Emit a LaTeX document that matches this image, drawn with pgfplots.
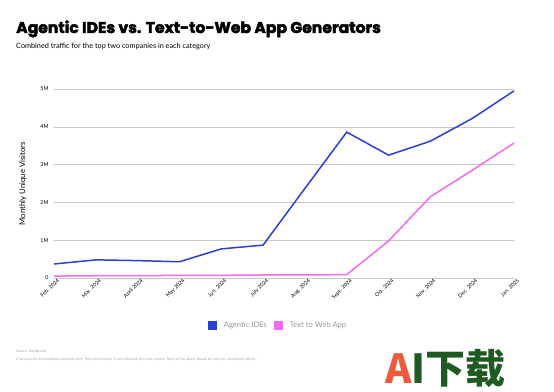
\documentclass[border=0pt]{standalone}
\usepackage{pgfplots}
\pgfplotsset{compat=1.18}
\usepackage{fontspec}
\setmainfont{Lato}
\newfontfamily\titlefont[BoldFeatures={FakeBold=2.5}]{Poppins}
\newfontfamily\cjk{Noto Sans CJK SC}
\definecolor{ide}{HTML}{2B3FD0}
\definecolor{web}{HTML}{EE6CEE}
\definecolor{gridc}{HTML}{C8C8C8}
\definecolor{wmgreen}{HTML}{1E5A22}
\definecolor{wmred}{HTML}{EE5A3C}
\begin{document}
\begin{tikzpicture}[x=1pt,y=1pt]
\path[use as bounding box] (0,0) rectangle (554,391);
\node[anchor=base west,inner sep=0pt,font=\titlefont\bfseries\fontsize{15.6}{17}\selectfont] at (16,358) {Agentic IDEs vs. Text-to-Web App Generators};
\node[anchor=base west,inner sep=0pt,font=\fontsize{7.3}{8}\selectfont] at (16,342) {Combined traffic for the top two companies in each category};
\node[anchor=base west,inner sep=0pt,font=\fontsize{3.6}{4}\selectfont,text=gray!70] at (16,39) {Source: Similarweb};
\node[anchor=base west,inner sep=0pt,font=\fontsize{3.6}{4}\selectfont,text=gray!70] at (16,31) {Charts are for informational purposes only. Past performance is not indicative of future results. None of the above should be taken as investment advice.};
\node[anchor=base west,inner sep=0pt,font=\cjk\bfseries\fontsize{40}{42}\selectfont] at (385,8) {\textcolor{wmred}{A}\textcolor{wmgreen}{I下载}};
\begin{axis}[
  at={(54pt,113pt)}, anchor=south west,
  scale only axis, width=460pt, height=189pt,
  xmin=0, xmax=11, ymin=0, ymax=5,
  axis line style={draw=none},
  major tick length=0pt,
  ymajorgrids, grid style={gridc, line width=0.6pt},
  ytick={0,1,2,3,4,5},
  yticklabels={0,1M,2M,3M,4M,5M},
  xtick={0,...,11},
  xticklabels={Feb. 2024,Mar. 2024,April 2024,May 2024,Jun. 2024,July 2024,Aug. 2024,Sept. 2024,Oct. 2024,Nov. 2024,Dec. 2024,Jan. 2025},
  x tick label style={rotate=45, anchor=north east, font=\fontsize{5.3}{6}\selectfont, xshift=3pt, yshift=-1pt, inner sep=1pt},
  y tick label style={font=\fontsize{5.3}{6}\selectfont, xshift=-2pt},
  ylabel={Monthly Unique Visitors},
  ylabel style={font=\fontsize{7.8}{9}\selectfont, at={(axis description cs:-0.052,0.5)}},
  legend style={at={(0.487,-0.25)}, anchor=center, draw=none, legend columns=2,
    font=\fontsize{7.6}{9}\selectfont, text=gray!80, column sep=5pt},
  legend image code/.code={\fill[#1, draw=none] (0pt,-4.5pt) rectangle (9pt,4.5pt);},
  clip=false,
]
\addplot[ide, line width=1.5pt] coordinates {
(0,0.37) (1,0.48) (2,0.46) (3,0.43) (4,0.77) (5,0.87) (6,2.37) (7,3.86) (8,3.25) (9,3.62) (10,4.22) (11,4.95)};
\addlegendentry{Agentic IDEs}
\addplot[web, line width=1.5pt] coordinates {
(0,0.05) (1,0.06) (2,0.06) (3,0.07) (4,0.07) (5,0.08) (6,0.08) (7,0.09) (8,0.98) (9,2.15) (10,2.85) (11,3.57)};
\addlegendentry{Text to Web App}
\end{axis}
\end{tikzpicture}
\end{document}
